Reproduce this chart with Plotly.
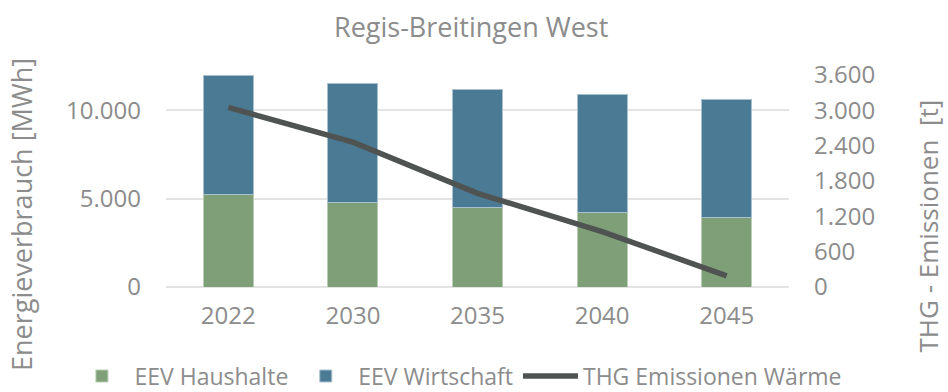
import plotly.graph_objects as go

# Jahre und Werte
years = ["2022", "2030", "2035", "2040", "2045"]
eev_haushalte = [5240, 4790, 4520, 4220, 3960]
eev_wirtschaft = [6740, 6720, 6680, 6700, 6680]
thg_waerme = [3050, 2460, 1590, 940, 190]

left_ticks = [0, 5000, 10000]
right_ticks = [0, 600, 1200, 1800, 2400, 3000, 3600]

font_family = "Open Sans, Noto Sans, sans-serif"
text_color = "#8c8c8c"

fig = go.Figure()
fig.add_trace(go.Bar(
    x=years, y=eev_haushalte, name="EEV Haushalte",
    marker=dict(color="#7f9f78", line=dict(color="#b9cdb5", width=1)),
))
fig.add_trace(go.Bar(
    x=years, y=eev_wirtschaft, name="EEV Wirtschaft",
    marker=dict(color="#4a7a94", line=dict(color="#a9c1cf", width=1)),
))
fig.add_trace(go.Scatter(
    x=years, y=thg_waerme, name="THG Emissionen Wärme", yaxis="y2",
    mode="lines", line=dict(color="#4f5452", width=5.5),
))

fig.update_layout(
    width=948, height=392,
    margin=dict(l=166, r=159, t=75, b=105, autoexpand=False),
    paper_bgcolor="white", plot_bgcolor="white",
    barmode="stack", bargap=0.6,
    separators=",.",
    font=dict(family=font_family, color=text_color, size=24),
    title=dict(text="Regis-Breitingen West", x=0.497, xanchor="center",
               y=0.93, yanchor="middle", font=dict(size=27, color=text_color)),
    xaxis=dict(showgrid=False, showline=False, ticks="", ticklabelstandoff=12,
               tickfont=dict(size=24, color=text_color)),
    yaxis=dict(range=[0, 12000], tickvals=left_ticks, tickformat=",.0f",
               showgrid=True, gridcolor="#e3e3e3", gridwidth=1.5,
               zeroline=True, zerolinecolor="#e3e3e3", zerolinewidth=1.5,
               ticks="", ticklabelstandoff=24,
               tickfont=dict(size=24, color=text_color)),
    yaxis2=dict(range=[0, 3600], tickvals=right_ticks, tickformat=",.0f",
                overlaying="y", side="right", showgrid=False, zeroline=False,
                ticks="", ticklabelstandoff=24,
                tickfont=dict(size=24, color=text_color)),
    legend=dict(orientation="h", x=-0.155, xanchor="left", y=-0.42,
                yanchor="middle", font=dict(size=23, color=text_color),
                itemwidth=55, traceorder="normal"),
    showlegend=True,
    annotations=[
        dict(text="Energieverbrauch [MWh]", textangle=-90, xref="paper",
             yref="paper", x=-0.231, y=0.34, xanchor="center", yanchor="middle",
             showarrow=False, font=dict(size=27, color=text_color)),
        dict(text="THG - Emissionen  [t]", textangle=-90, xref="paper",
             yref="paper", x=1.223, y=0.29, xanchor="center", yanchor="middle",
             showarrow=False, font=dict(size=26, color=text_color)),
    ],
)

fig.write_html("out.html")
